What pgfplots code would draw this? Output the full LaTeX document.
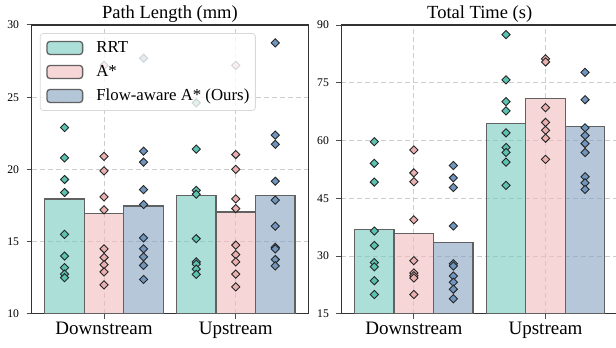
\documentclass[border=0pt]{standalone}
\usepackage{fontspec}
\setmainfont{Liberation Serif}
\usepackage{pgfplots}
\pgfplotsset{compat=1.18}
\definecolor{rrtbar}{RGB}{117,202,190}
\definecolor{astarbar}{RGB}{240,186,188}
\definecolor{flowbar}{RGB}{132,162,192}
\definecolor{rrtmk}{RGB}{92,194,178}
\definecolor{astarmk}{RGB}{234,176,176}
\definecolor{flowmk}{RGB}{112,150,192}
\pgfplotsset{
  mystyle/.style={
    scale only axis, width=276.6pt, height=288.8pt,
    xmin=-0.55, xmax=1.55,
    xtick={0,1}, xticklabels={Downstream,Upstream},
    tick align=outside, xtick pos=bottom, ytick pos=left,
    major tick length=5pt,
    tick style={black!70, line width=1pt},
    axis line style={black!80, line width=1.2pt},
    grid=major,
    major grid style={black!20, line width=1pt, dash pattern=on 5pt off 3pt},
    /pgf/number format/assume math mode=true,
    yticklabel style={font=\fontsize{11.7}{13}\selectfont, xshift=-4pt},
    xticklabel style={font=\fontsize{19}{21}\selectfont},
    every axis title shift=0pt,
    title style={font=\fontsize{18.5}{20}\selectfont, at={(0.5,1)}, anchor=base, yshift=6.7pt},
    clip marker paths=true,
  },
  barst/.style={ybar, bar width=0.3, bar shift=0pt, draw=black!62, line width=1.3pt, fill=#1, fill opacity=0.6, forget plot},
  mk/.style={only marks, mark=square*, mark size=2.9pt, mark options={rotate=45, draw=black!85, line width=0.9pt, fill=#1, solid, fill opacity=1}, forget plot},
}
\begin{document}
\begin{tikzpicture}
% ---------------- Path Length ----------------
\begin{axis}[mystyle,
  at={(31.6pt,34.2pt)}, anchor=south west,
  ymin=10, ymax=30, ytick={10,15,20,25,30},
  title={Path Length (mm)},
  legend style={at={(0.030,0.972)}, anchor=north west, draw=black!15, line width=0.8pt,
    rounded corners=3pt, fill=white, fill opacity=0.8, draw opacity=1, text opacity=1,
    font=\fontsize{16.8}{18}\selectfont, inner xsep=6pt, inner ysep=7pt, row sep=9pt,
    cells={anchor=west}, nodes={inner sep=0pt, text height=12pt, text depth=3pt}},
]
\addplot[barst=rrtbar] coordinates {(-0.3,17.96) (0.7,18.20)};
\addplot[barst=astarbar] coordinates {(0,16.97) (1,17.06)};
\addplot[barst=flowbar] coordinates {(0.3,17.47) (1.3,18.19)};
\addplot[mk=rrtmk] coordinates {
 (-0.3,30.2) (-0.3,22.9) (-0.3,20.8) (-0.3,19.3) (-0.3,18.4) (-0.3,15.5) (-0.3,14.0) (-0.3,13.2) (-0.3,12.75) (-0.3,12.5)
 (0.7,24.6) (0.7,21.4) (0.7,18.55) (0.7,18.28) (0.7,15.2) (0.7,13.6) (0.7,13.44) (0.7,13.1) (0.7,12.73)};
\addplot[mk=astarmk] coordinates {
 (0,27.2) (0,20.9) (0,19.9) (0,18.1) (0,17.2) (0,14.5) (0,13.9) (0,13.4) (0,12.9) (0,12.0)
 (1,27.2) (1,21.03) (1,20.0) (1,17.96) (1,17.29) (1,14.75) (1,14.1) (1,13.6) (1,12.75) (1,11.87)};
\addplot[mk=flowmk] coordinates {
 (0.3,27.7) (0.3,21.26) (0.3,20.5) (0.3,18.6) (0.3,17.57) (0.3,15.26) (0.3,14.5) (0.3,13.94) (0.3,13.35) (0.3,12.38)
 (1.3,28.76) (1.3,22.37) (1.3,21.74) (1.3,19.18) (1.3,17.87) (1.3,16.07) (1.3,14.6) (1.3,14.5) (1.3,13.76) (1.3,13.32)};
\addlegendimage{legend image code/.code={\draw[fill=rrtbar, fill opacity=0.6, draw=black!62, line width=1.3pt] (0pt,-6.5pt) rectangle (35.7pt,6.5pt); \path (49pt,0pt);}}
\addlegendentry{RRT}
\addlegendimage{legend image code/.code={\draw[fill=astarbar, fill opacity=0.6, draw=black!62, line width=1.3pt] (0pt,-6.5pt) rectangle (35.7pt,6.5pt); \path (49pt,0pt);}}
\addlegendentry{A*}
\addlegendimage{legend image code/.code={\draw[fill=flowbar, fill opacity=0.6, draw=black!62, line width=1.3pt] (0pt,-6.5pt) rectangle (35.7pt,6.5pt); \path (49pt,0pt);}}
\addlegendentry{Flow-aware A* (Ours)}
\end{axis}
% ---------------- Total Time ----------------
\begin{axis}[mystyle,
  at={(341.4pt,34.2pt)}, anchor=south west,
  ymin=15, ymax=90, ytick={15,30,45,60,75,90},
  title={Total Time (s)},
]
\addplot[barst=rrtbar] coordinates {(-0.3,36.9) (0.7,64.5)};
\addplot[barst=astarbar] coordinates {(0,35.9) (1,71.0)};
\addplot[barst=flowbar] coordinates {(0.3,33.45) (1.3,63.6)};
\addplot[mk=rrtmk] coordinates {
 (-0.3,59.7) (-0.3,54.07) (-0.3,49.2) (-0.3,36.5) (-0.3,32.75) (-0.3,28.3) (-0.3,27.2) (-0.3,23.6) (-0.3,20.0)
 (0.7,87.5) (0.7,75.75) (0.7,70.1) (0.7,67.7) (0.7,62.0) (0.7,58.2) (0.7,56.9) (0.7,54.4) (0.7,48.35)};
\addplot[mk=astarmk] coordinates {
 (0,57.55) (0,51.6) (0,49.3) (0,39.4) (0,28.8) (0,25.6) (0,24.9) (0,24.3) (0,20.0)
 (1,81.2) (1,80.4) (1,68.55) (1,64.7) (1,62.65) (1,60.6) (1,55.1)};
\addplot[mk=flowmk] coordinates {
 (0.3,53.5) (0.3,50.3) (0.3,47.8) (0.3,37.8) (0.3,28.0) (0.3,27.4) (0.3,24.8) (0.3,23.2) (0.3,21.4) (0.3,18.9)
 (1.3,77.7) (1.3,70.6) (1.3,63.3) (1.3,61.3) (1.3,59.2) (1.3,56.9) (1.3,50.6) (1.3,49.0) (1.3,47.3)};
\end{axis}
\pgfresetboundingbox
\path[use as bounding box] (0,0) rectangle (616pt,348pt);
\end{tikzpicture}
\end{document}
